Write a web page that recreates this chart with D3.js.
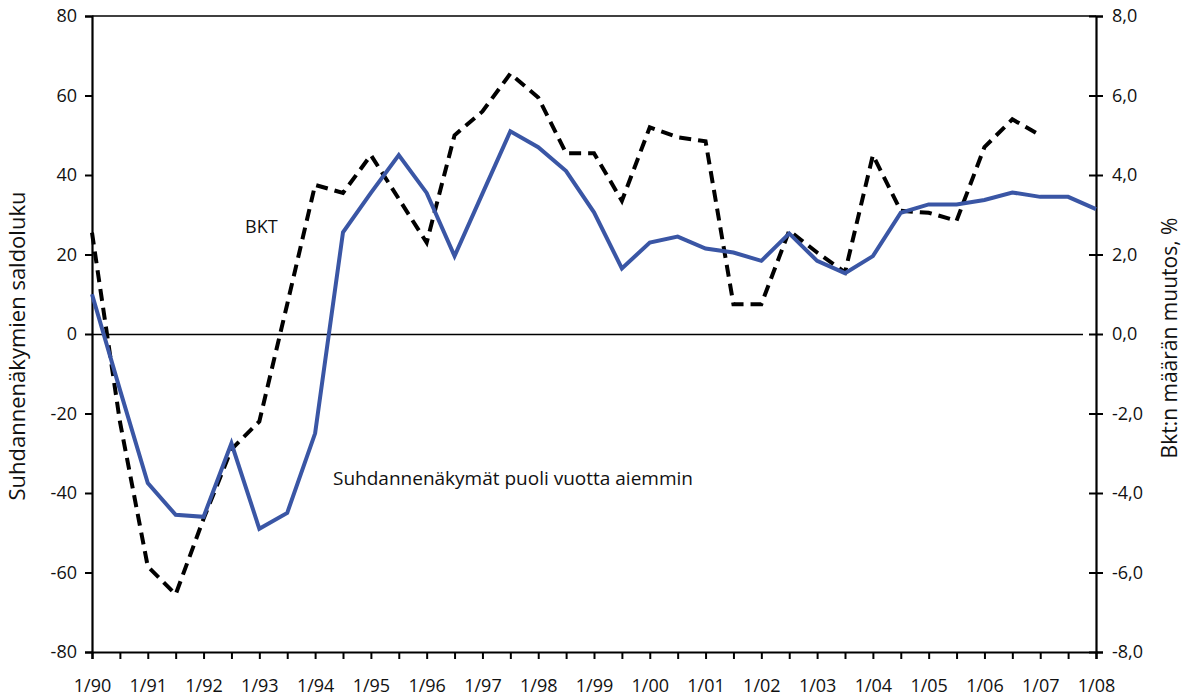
<!DOCTYPE html>
<html>
<head>
<meta charset="utf-8">
<script src="https://cdn.jsdelivr.net/npm/d3@7"></script>
<style>
  body { margin: 0; background: #fff; }
  svg text { font-family: "Open Sans", "Noto Sans", sans-serif; fill: #111; }
</style>
</head>
<body>
<svg id="chart" width="1183" height="700"></svg>
<script>
// half-year periods 1/90 ... 1/08
const periods = [];
for (let y = 1990; y <= 2008; y++) {
  const yy = String(y % 100).padStart(2, '0');
  periods.push('1/' + yy);
  if (y < 2008) periods.push('7/' + yy);
}

// suhdannenäkymien saldoluku (left axis), shifted half a year
const outlook = [10, -14, -37.5, -45.5, -46, -27.5, -49, -45, -25, 25.6,
  35.5, 45, 35.5, 19.6, 35.3, 51, 47, 41, 30.6, 16.5,
  23, 24.5, 21.5, 20.5, 18.4, 25.3, 18.4, 15.3, 19.6, 30.5,
  32.6, 32.6, 33.7, 35.6, 34.5, 34.5, 31.4];

// BKT:n määrän muutos, % (right axis)
const gdp = [2.55, -2.2, -5.85, -6.55, -4.65, -2.9, -2.2, 0.75, 3.75, 3.55,
  4.5, 3.4, 2.3, 5.0, 5.6, 6.55, 5.95, 4.55, 4.55, 3.35,
  5.2, 4.95, 4.85, 0.75, 0.75, 2.6, 2.05, 1.55, 4.5, 3.1,
  3.05, 2.85, 4.7, 5.4, 5.0];

const leftTicks = [-80, -60, -40, -20, 0, 20, 40, 60, 80];
const rightTicks = [-8, -6, -4, -2, 0, 2, 4, 6, 8];

const svg = d3.select('#chart');
const m = { left: 92, right: 87, top: 16, bottom: 48 };
const W = 1183, H = 700;

const x = d3.scalePoint().domain(periods).range([m.left, W - m.right]);
const yL = d3.scaleLinear().domain([-80, 80]).range([H - m.bottom, m.top]);
const yR = d3.scaleLinear().domain([-8, 8]).range([H - m.bottom, m.top]);

// top border
svg.append('line')
  .attr('x1', m.left).attr('x2', W - m.right)
  .attr('y1', m.top).attr('y2', m.top)
  .attr('stroke', '#000').attr('stroke-width', 1.5);

// zero line
svg.append('line')
  .attr('x1', m.left).attr('x2', W - m.right - 13)
  .attr('y1', Math.round(yL(0)) + 0.5).attr('y2', Math.round(yL(0)) + 0.5)
  .attr('stroke', '#000').attr('stroke-width', 1.4);

// left axis
const gl = svg.append('g')
  .attr('transform', `translate(${m.left},0)`)
  .call(d3.axisLeft(yL).tickValues(leftTicks).tickSize(7).tickPadding(8).tickFormat(d => String(d)));

// right axis, ticks cross the line
const gr = svg.append('g')
  .attr('transform', `translate(${W - m.right},0)`)
  .call(d3.axisRight(yR).tickValues(rightTicks).tickSize(7).tickPadding(9)
    .tickFormat(d => d.toFixed(1).replace('.', ',')));
gr.selectAll('.tick').append('line').attr('x1', -7).attr('x2', 0).attr('stroke', '#000');

// bottom axis
const gb = svg.append('g')
  .attr('transform', `translate(0,${H - m.bottom})`)
  .call(d3.axisBottom(x).tickSize(7).tickPadding(20)
    .tickFormat(d => d.startsWith('1/') ? d : ''));

[gl, gr, gb].forEach(g => {
  g.select('.domain').attr('stroke', '#000').attr('stroke-width', 2.2);
  g.selectAll('.tick line').attr('stroke', '#000').attr('stroke-width', 2);
  g.selectAll('.tick text').attr('font-size', 18)
    .style('font-family', '"Open Sans", sans-serif').attr('fill', '#111');
});

// lines
const lineL = d3.line().x((d, i) => x(periods[i])).y(d => yL(d));
const lineR = d3.line().x((d, i) => x(periods[i])).y(d => yR(d));

svg.append('path').datum(gdp)
  .attr('d', lineR)
  .attr('fill', 'none').attr('stroke', '#000')
  .attr('stroke-width', 4).attr('stroke-dasharray', '12,7');

svg.append('path').datum(outlook)
  .attr('d', lineL)
  .attr('fill', 'none').attr('stroke', '#3a56a5')
  .attr('stroke-width', 4).attr('stroke-linejoin', 'miter');

// annotations
svg.append('text').attr('x', 245).attr('y', 233)
  .attr('font-size', 18).text('BKT');
svg.append('text').attr('x', 333).attr('y', 485)
  .attr('font-size', 19).text('Suhdannenäkymät puoli vuotta aiemmin');

// axis titles
svg.append('text')
  .attr('transform', `translate(25,346) rotate(-90)`)
  .attr('text-anchor', 'middle').attr('font-size', 22)
  .text('Suhdannenäkymien saldoluku');
svg.append('text')
  .attr('transform', `translate(1177,338) rotate(-90)`)
  .attr('text-anchor', 'middle').attr('font-size', 21)
  .text('Bkt:n määrän muutos, %');
</script>
</body>
</html>
